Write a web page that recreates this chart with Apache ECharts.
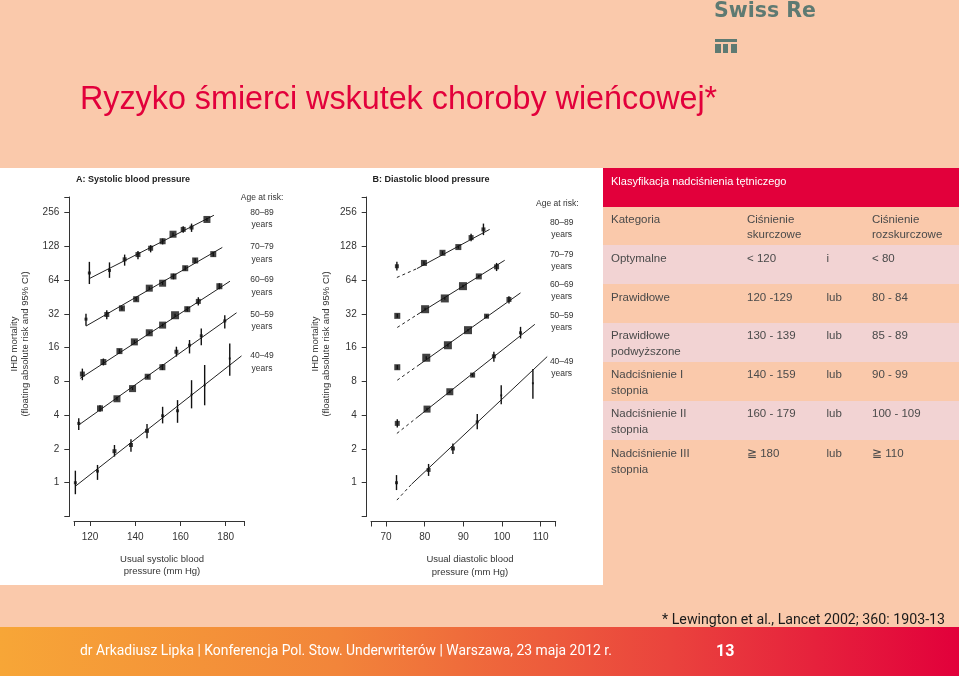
<!DOCTYPE html>
<html>
<head>
<meta charset="utf-8">
<script src="https://cdn.jsdelivr.net/npm/echarts@6.0.0/dist/echarts.min.js"></script>
<style>
html,body{margin:0;padding:0;background:#FAC9AB;overflow:hidden;}
#chart{width:959px;height:676px;}
</style>
</head>
<body>
<div id="chart"></div>
<script>
// ================= DATA =================
const ageLabels = ['80–89', '70–79', '60–69', '50–59', '40–49'];

// Panel A – usual systolic BP (mm Hg): [bp, IHD mortality, CI low, CI high]
const sys80 = [[119.7,74,59,93],[128.6,78,67,92],[135.3,98,86,108],[141.2,108,98,116],[146.8,123,113,131],[152.1,142,133,150],[156.7,164,158,170],[161.2,181,169,193],[164.9,188,172,204],[171.7,222,214,230]];
const sys70 = [[118.2,28.7,25,32],[127.4,31.6,28.7,34.5],[134.1,35.8,34.5,37.2],[140.4,43.2,41.6,44.8],[146.2,54.2,52.5,56],[152.1,60,58,62],[156.9,69,65,73],[162.1,81.6,78,85.5],[166.5,95.7,91,100],[174.5,109,104,114]];
const sys60 = [[116.6,9.3,8.2,10.4],[125.9,11.9,11.1,12.8],[133,14.9,14.2,15.6],[139.6,18,17.3,18.7],[146.2,21.7,21,22.4],[152.1,25.4,24.6,26.2],[157.6,31.1,30.1,32.1],[163,35.2,33.5,37],[167.9,41.3,38,45],[177.2,56.4,53,60]];
const sys50 = [[115,3.38,2.95,3.75],[124.4,4.6,4.3,4.9],[131.9,5.6,5.4,5.8],[138.8,6.9,6.7,7.1],[145.5,8.8,8.5,9.1],[152,10.7,10.1,11.4],[158.2,14.7,13.3,16.3],[164,16.8,14.2,18.7],[169.2,20.4,16.8,23.7],[179.6,27.7,23.7,31.1]];
const sys40 = [[113.5,1.0,0.79,1.28],[123.3,1.27,1.06,1.44],[130.8,1.91,1.71,2.17],[138.1,2.17,1.89,2.44],[145.2,2.9,2.49,3.33],[152.1,3.95,3.38,4.75],[158.7,4.38,3.42,5.45],[164.9,6.1,4.6,8.2],[170.7,7.4,4.9,11.2],[181.8,12.8,9.0,17.4]];
// Panel A fitted lines: [bp, mortality]
const sysFit80 = [[119.7,66],[174.8,242]];
const sysFit70 = [[118.2,24.9],[178.5,125]];
const sysFit60 = [[115.6,8.5],[181.9,62.5]];
const sysFit50 = [[115,3.27],[184.8,32.7]];
const sysFit40 = [[113.5,0.93],[187,13.5]];

// Panel B – usual diastolic BP (mm Hg): [bp, IHD mortality, CI low, CI high]
const dia80 = [[72.8,85,78,93],[79.8,91,88,94],[84.6,112,108,116],[88.7,126,122,130],[92.0,153,142,166],[95.2,181,161,204]];
const dia70 = [[72.9,30.7,29.5,32],[80.1,35.2,34.2,36.2],[85.2,43.9,42.8,45],[89.9,56.5,55,58],[94.0,69,67,71],[98.6,84,77,91]];
const dia60 = [[72.9,10.7,10.2,11.2],[80.4,13,12.6,13.4],[86,16.8,16.3,17.3],[91.2,22.9,22.3,23.5],[96,30.5,29.5,31.5],[101.8,43,39.6,46]];
const dia50 = [[72.9,3.38,3.11,3.67],[80.6,4.53,4.4,4.66],[86.5,6.47,6.3,6.65],[92.4,9.1,8.8,9.4],[97.9,13.4,12,14.7],[104.8,21.7,19.3,24.5]];
const dia40 = [[72.7,1.0,0.86,1.17],[81.0,1.30,1.15,1.47],[87.3,2.02,1.80,2.24],[93.6,3.49,2.99,4.1],[99.8,6.0,5.0,7.4],[108.0,7.7,5.6,10.3]];
// Panel B fitted lines: first segment extrapolated (dashed), then fitted (solid)
const diaFit80 = [[72.8,67.5],[78,81],[96.8,181]];
const diaFit70 = [[72.9,24.2],[78,31.4],[100.7,96]];
const diaFit60 = [[72.9,8.2],[78,10.9],[104.8,49.2]];
const diaFit50 = [[72.8,2.75],[78,3.81],[108.5,25.8]];
const diaFit40 = [[72.8,0.70],[76.6,0.97],[111.7,13.3]];

// Table
const tableTitle = 'Klasyfikacja nadciśnienia tętniczego';
const tableHead = ['Kategoria', 'Ciśnienie\nskurczowe', '', 'Ciśnienie\nrozskurczowe'];
const tableCategories = ['Optymalne', 'Prawidłowe', 'Prawidłowe\npodwyższone', 'Nadciśnienie I\nstopnia', 'Nadciśnienie II\nstopnia', 'Nadciśnienie III\nstopnia'];
const tableSystolic = ['< 120', '120 -129', '130 - 139', '140 - 159', '160 - 179', '≧ 180'];
const tableJoin = ['i', 'lub', 'lub', 'lub', 'lub', 'lub'];
const tableDiastolic = ['< 80', '80 - 84', '85 - 89', '90 - 99', '100 - 109', '≧ 110'];

// ================= STYLE =================
const sizesA = [[3,3,4,5,5,6,7,5,4,7],[3,5,6,6,7,7,6,6,6,6],[5,6,6,7,7,7,8,6,5,6],[3,6,7,7,6,6,4,3,3,3],[3,3,4,4,4,3,3,2,2,2]];
const sizesB = [[4,6,6,6,5,4],[6,8,8,8,6,5],[6,8,8,8,5,5],[5,7,7,5,4,3],[3,4,4,3,2,2]];
const BG = '#FAC9AB', PINK = '#F2D3D3', RED = '#E2003B', INK = '#333';
const FONT = '"Liberation Sans", Arial, sans-serif';

// ================= BUILD =================
const series = [];
function addGroup(pts, fit, sizes, gi, dashed) {
  const common = {xAxisIndex: gi, yAxisIndex: gi, animation: false, silent: true};
  const ls = {color: '#222', width: 1};
  if (dashed) {
    series.push(Object.assign({type: 'line', data: fit.slice(0, 2), symbol: 'none', lineStyle: Object.assign({}, ls, {type: [3, 3]}), z: 2}, common));
    series.push(Object.assign({type: 'line', data: fit.slice(1), symbol: 'none', lineStyle: ls, z: 2}, common));
  } else {
    series.push(Object.assign({type: 'line', data: fit, symbol: 'none', lineStyle: ls, z: 2}, common));
  }
  series.push(Object.assign({
    type: 'custom', data: pts, encode: {x: 0, y: 1}, z: 3,
    renderItem: function (params, api) {
      const a = api.coord([api.value(0), api.value(2)]);
      const b = api.coord([api.value(0), api.value(3)]);
      return {type: 'line', shape: {x1: a[0], y1: a[1], x2: b[0], y2: b[1]}, style: {stroke: '#111', lineWidth: 1.4}};
    }
  }, common));
  series.push(Object.assign({
    type: 'scatter', data: pts.map(p => [p[0], p[1]]), symbol: 'rect', z: 4,
    symbolSize: (v, p) => sizes[p.dataIndex], itemStyle: {color: '#111'}
  }, common));
}
[sys80, sys70, sys60, sys50, sys40].forEach((g, i) => addGroup(g, [sysFit80, sysFit70, sysFit60, sysFit50, sysFit40][i], sizesA[i], 0, false));
[dia80, dia70, dia60, dia50, dia40].forEach((g, i) => addGroup(g, [diaFit80, diaFit70, diaFit60, diaFit50, diaFit40][i], sizesB[i], 1, true));

function yAx(gi, off) {
  return {
    type: 'log', logBase: 2, min: 0.5, max: 352, gridIndex: gi, offset: off,
    axisLine: {show: true, lineStyle: {color: INK, width: 1}},
    axisTick: {show: true, length: 5, lineStyle: {color: INK}},
    splitLine: {show: false},
    axisLabel: {fontSize: 10, color: INK, margin: 10, fontFamily: FONT,
      formatter: v => { const e = Math.log2(v); return (v >= 1 && v <= 256 && Math.abs(e - Math.round(e)) < 1e-6) ? String(Math.round(v)) : ''; }}
  };
}
function xAx(gi, min, max, step, split, off) {
  return {
    type: 'value', min: min, max: max, gridIndex: gi, splitNumber: split, offset: off,
    axisLine: {show: true, lineStyle: {color: INK, width: 1}},
    axisTick: {show: true, length: 5, lineStyle: {color: INK}},
    splitLine: {show: false},
    axisLabel: {fontSize: 10, color: INK, margin: 11, fontFamily: FONT,
      formatter: v => (Math.abs(v % step) < 1e-9 ? String(v) : '')}
  };
}

function T(x, y, text, o) {
  o = o || {};
  return {type: 'text', x: x, y: y, z: 50, rotation: o.rot || 0, silent: true,
    style: {text: text, fill: o.color || INK, fontSize: o.size || 10, fontWeight: o.weight || 'normal',
      fontFamily: o.family || FONT, align: o.align || 'left', verticalAlign: o.va || 'middle', lineHeight: o.lh || undefined}};
}
function R(x, y, w, h, fill, z) {
  return {type: 'rect', shape: {x: x, y: y, width: w, height: h}, style: {fill: fill}, z: z == null ? -10 : z, silent: true};
}

const g = [];
// backgrounds
g.push(R(0, 168, 603, 417, '#FFFFFF'));
g.push(R(603, 168, 356, 39, RED));
[245, 323, 401].forEach(y => g.push(R(603, y, 356, 39, PINK)));
g.push({type: 'rect', shape: {x: 0, y: 627, width: 959, height: 49}, z: -10, silent: true,
  style: {fill: new echarts.graphic.LinearGradient(0, 0, 1, 0, [
    {offset: 0, color: '#F7A637'}, {offset: 0.35, color: '#F2853A'}, {offset: 0.7, color: '#EA433D'}, {offset: 1, color: '#E2003B'}])}});

// logo
g.push(T(714, 12, 'Swiss Re', {size: 20.5, weight: 'bold', color: '#5E7A72', family: '"DejaVu Sans", sans-serif'}));
g.push(R(715, 39, 22, 3, '#5E7A72', 10));
g.push(R(715, 44, 6, 9, '#5E7A72', 10));
g.push(R(723, 44, 5, 9, '#5E7A72', 10));
g.push(R(731, 44, 6, 9, '#5E7A72', 10));

// slide title
g.push(T(80, 100, 'Ryzyko śmierci wskutek choroby wieńcowej*', {size: 32.3, color: RED}));

// panel titles
g.push(T(76, 179.5, 'A: Systolic blood pressure', {size: 9, weight: 'bold', color: '#222'}));
g.push(T(372.5, 180, 'B: Diastolic blood pressure', {size: 9, weight: 'bold', color: '#222'}));

// y axis names
g.push(T(20, 344, 'IHD mortality\n(floating absolute risk and 95% CI)', {size: 9.5, align: 'center', rot: Math.PI / 2, lh: 11.5}));
g.push(T(320.5, 344, 'IHD mortality\n(floating absolute risk and 95% CI)', {size: 9.5, align: 'center', rot: Math.PI / 2, lh: 11}));
// x axis names
g.push(T(162, 559, 'Usual systolic blood', {size: 9.5, align: 'center'}));
g.push(T(162, 571.5, 'pressure (mm Hg)', {size: 9.5, align: 'center'}));
g.push(T(470, 559.3, 'Usual diastolic blood', {size: 9.5, align: 'center'}));
g.push(T(470, 572, 'pressure (mm Hg)', {size: 9.5, align: 'center'}));

// age labels
g.push(T(262, 197.3, 'Age at risk:', {size: 8.5, align: 'center'}));
g.push(T(557.3, 204, 'Age at risk:', {size: 8.5, align: 'center'}));
const ageYA = [212.3, 246.7, 280, 314.3, 356];
const ageYB = [222.7, 255, 284.5, 315.7, 361.7];
ageLabels.forEach((a, i) => {
  g.push(T(262, ageYA[i], a, {size: 8.5, align: 'center'}));
  g.push(T(262, ageYA[i] + 12.5, 'years', {size: 8.5, align: 'center'}));
  g.push(T(561.7, ageYB[i], a, {size: 8.5, align: 'center'}));
  g.push(T(561.7, ageYB[i] + 12, 'years', {size: 8.5, align: 'center'}));
});

// table
const TC = '#4A4A4A', TS = 11.5;
const colX = [611, 747, 826.5, 872];
g.push(T(611, 181.5, tableTitle, {size: 11, color: '#FFFFFF'}));
function cell(x, y, text) {
  text.split('\n').forEach((line, k) => g.push(T(x, y + k * 15.8, line, {size: TS, color: TC})));
}
tableHead.forEach((h, c) => { if (h) cell(colX[c], 219.5, h); });
const rowY = [259, 298.3, 335.7, 375, 414.3, 454];
tableCategories.forEach((cat, r) => {
  cell(colX[0], rowY[r], cat);
  cell(colX[1], rowY[r], tableSystolic[r]);
  cell(colX[2], rowY[r], tableJoin[r]);
  cell(colX[3], rowY[r], tableDiastolic[r]);
});

// footer
g.push(T(945, 620, '* Lewington et al., Lancet 2002; 360: 1903-13', {size: 14.2, color: '#1A1A1A', align: 'right', family: 'Roboto, sans-serif'}));
g.push(T(80, 652, 'dr Arkadiusz Lipka | Konferencja Pol. Stow. Underwriterów | Warszawa, 23 maja 2012 r.', {size: 13.9, color: '#FFFFFF', family: 'Roboto, sans-serif'}));
g.push(T(716, 652, '13', {size: 16, weight: 'bold', color: '#FFFFFF', family: 'Roboto, sans-serif'}));

const option = {
  backgroundColor: BG,
  animation: false,
  grid: [
    {left: 74, top: 197, width: 170, height: 319.5},
    {left: 371, top: 197, width: 184.7, height: 319.5}
  ],
  xAxis: [xAx(0, 112.9, 188.1, 20, 4, 4.5), xAx(1, 66.1, 113.9, 10, 5, 5)],
  yAxis: [yAx(0, 4.7), yAx(1, 4.3)],
  series: series,
  graphic: {elements: g}
};
const chart = echarts.init(document.getElementById('chart'), null, {renderer: 'canvas', width: 959, height: 676});
chart.setOption(option);
</script>
</body>
</html>
